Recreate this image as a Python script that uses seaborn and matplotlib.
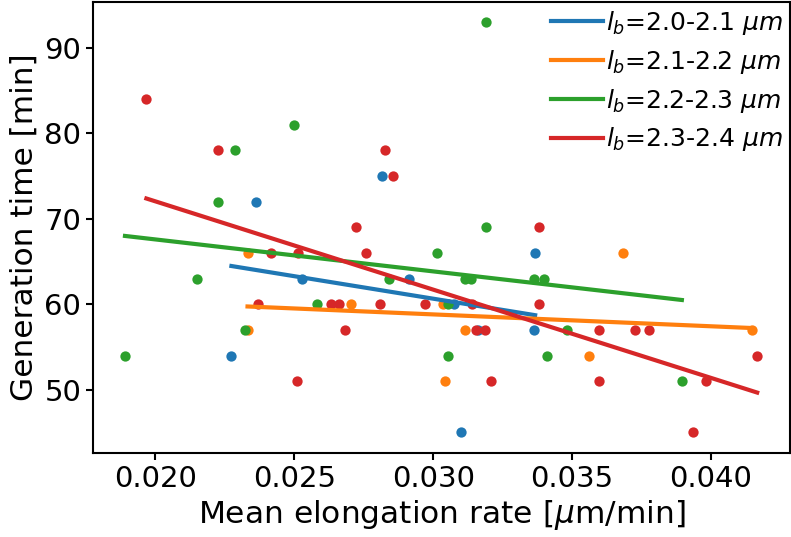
import matplotlib
matplotlib.use("Agg")
import matplotlib.pyplot as plt
import seaborn as sns
import numpy as np
import pandas as pd

labels = [r"$l_b$=2.0-2.1 $\mu m$", r"$l_b$=2.1-2.2 $\mu m$",
          r"$l_b$=2.2-2.3 $\mu m$", r"$l_b$=2.3-2.4 $\mu m$"]
colors = ["#1f77b4", "#ff7f0e", "#2ca02c", "#d62728"]

rate_20_21 = [0.02363, 0.02816, 0.02528, 0.02274, 0.03367, 0.02912, 0.03074,
              0.03363, 0.03100, 0.03163]
gen_20_21 = [72, 75, 63, 54, 66, 63, 60, 57, 45, 57]

rate_21_22 = [0.02332, 0.02333, 0.02704, 0.03035, 0.03116, 0.03042, 0.03684,
              0.04146, 0.03559]
gen_21_22 = [66, 57, 60, 60, 57, 51, 66, 57, 54]

rate_22_23 = [0.02498, 0.02287, 0.02226, 0.03191, 0.03189, 0.02151, 0.02583,
              0.02322, 0.01891, 0.03015, 0.02840, 0.03116, 0.03137, 0.03364,
              0.03398, 0.03052, 0.03483, 0.03053, 0.03409, 0.03895]
gen_22_23 = [81, 78, 72, 93, 69, 63, 60, 57, 54, 66, 63, 63, 63, 63,
             63, 60, 57, 54, 54, 51]

rate_23_24 = [0.01968, 0.02227, 0.02827, 0.02857, 0.02723, 0.03380, 0.02417,
              0.02512, 0.02759, 0.02371, 0.02632, 0.02660, 0.02810, 0.02969,
              0.03141, 0.03380, 0.02683, 0.03153, 0.03187, 0.03598, 0.03728,
              0.03776, 0.02511, 0.03209, 0.03598, 0.03981, 0.04166, 0.03934]
gen_23_24 = [84, 78, 78, 75, 69, 69, 66, 66, 66, 60, 60, 60, 60, 60,
             60, 60, 57, 57, 57, 57, 57, 57, 51, 51, 51, 51, 54, 45]

groups = [(rate_20_21, gen_20_21), (rate_21_22, gen_21_22),
          (rate_22_23, gen_22_23), (rate_23_24, gen_23_24)]

fig = plt.figure(figsize=(7.91, 5.37), dpi=100)
ax = fig.add_axes([0.1176, 0.1564, 0.8811, 0.8406])

for (xs, ys), lab, col in zip(groups, labels, colors):
    df = pd.DataFrame({"rate": xs, "gen": ys})
    sns.scatterplot(data=df, x="rate", y="gen", color=col, s=55,
                    linewidth=0, ax=ax, legend=False)
    sns.regplot(data=df, x="rate", y="gen", scatter=False, ci=None,
                color=col, line_kws={"lw": 3}, label=lab, ax=ax)

ax.set_xlim(0.01776, 0.04284)
ax.set_ylim(42.6, 95.4)
ax.set_xticks([0.020, 0.025, 0.030, 0.035, 0.040])
ax.set_yticks([50, 60, 70, 80, 90])
ax.tick_params(labelsize=21, length=5, width=1.5)
for sp in ax.spines.values():
    sp.set_linewidth(1.5)
ax.set_xlabel(r"Mean elongation rate [$\mu$m/min]", fontsize=22.5)
ax.set_ylabel("Generation time [min]", fontsize=22.5)
ax.legend(loc="upper right", fontsize=18, frameon=False, handlelength=2.1,
          handletextpad=0.1, labelspacing=0.43, borderaxespad=0.1,
          borderpad=0.2)

fig.savefig("out.png", dpi=100)
